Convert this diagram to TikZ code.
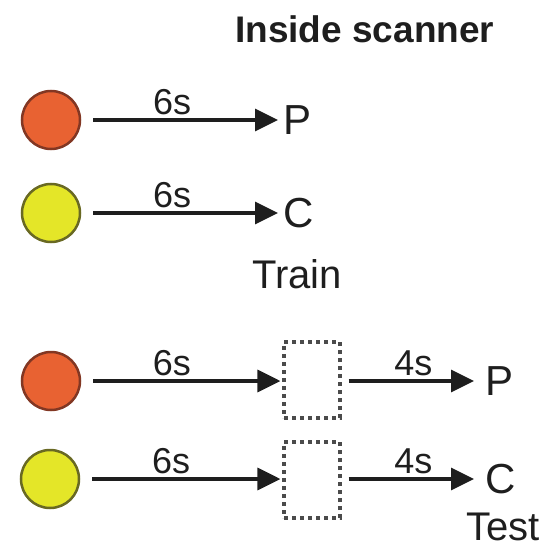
\documentclass[tikz,border=0pt]{standalone}
\usepackage{fontspec}
\setmainfont{Liberation Sans}
\usetikzlibrary{arrows.meta}
\definecolor{ink}{RGB}{30,30,30}
\definecolor{redfill}{RGB}{232,98,50}
\definecolor{reddraw}{RGB}{130,55,35}
\definecolor{yelfill}{RGB}{228,230,40}
\definecolor{yeldraw}{RGB}{105,105,35}
\begin{document}
\begin{tikzpicture}[x=1pt,y=-1pt,
  stim/.style={circle, minimum size=58pt, inner sep=0pt, line width=2.5pt},
  redstim/.style={stim, fill=redfill, draw=reddraw},
  yelstim/.style={stim, fill=yelfill, draw=yeldraw},
  flow/.style={draw=ink, line width=3.5pt, -{Triangle[length=23pt,width=22pt]}},
  dur/.style={font=\fontsize{36}{40}\selectfont, text=ink, inner sep=3pt},
  resp/.style={font=\fontsize{42}{48}\selectfont, text=ink, inner sep=0pt},
  phase/.style={font=\fontsize{40}{46}\selectfont, text=ink, inner sep=0pt},
  gapbox/.style={draw=ink!80, dash pattern=on 4pt off 4pt, line width=3.2pt,
                 minimum width=56pt, minimum height=76pt, inner sep=0pt}
]
\path[use as bounding box] (0,0) rectangle (551,548);

% heading
\node[font=\bfseries\fontsize{37}{44}\selectfont, text=ink, inner sep=0pt,
      anchor=base west] (title) at (235,43) {Inside scanner};

% training trials
\node[redstim] (s1) at (51,120) {};
\node[resp, anchor=west] (p1) at (283,120) {P};
\draw[flow, shorten <=12pt, shorten >=5pt] (s1) -- node[dur, above, pos=0.45] {6s} (p1);

\node[yelstim] (s2) at (51,213) {};
\node[resp, anchor=west] (c2) at (283,213) {C};
\draw[flow, shorten <=12pt, shorten >=5pt] (s2) -- node[dur, above, pos=0.45] {6s} (c2);

\node[phase, anchor=base west] (train) at (252,288) {Train};

% test trials with a blank delay
\node[redstim] (s3) at (51,381) {};
\node[gapbox] (b3) at (312,380) {};
\node[resp, anchor=west] (p3) at (485,381) {P};
\draw[flow, shorten <=12pt, shorten >=2pt] (s3) -- node[dur, above, pos=0.45] {6s} (s3 -| b3.west);
\draw[flow, shorten <=7pt, shorten >=11pt] (b3.east |- p3) -- node[dur, above, pos=0.5] {4s} (p3);

\node[yelstim] (s4) at (50,479) {};
\node[gapbox] (b4) at (312,480) {};
\node[resp, anchor=west] (c4) at (485,479) {C};
\draw[flow, shorten <=12pt, shorten >=2pt] (s4) -- node[dur, above, pos=0.45] {6s} (s4 -| b4.west);
\draw[flow, shorten <=7pt, shorten >=11pt] (b4.east |- c4) -- node[dur, above, pos=0.5] {4s} (c4);

\node[phase, anchor=base west] (test) at (466,540) {Test};
\end{tikzpicture}
\end{document}
